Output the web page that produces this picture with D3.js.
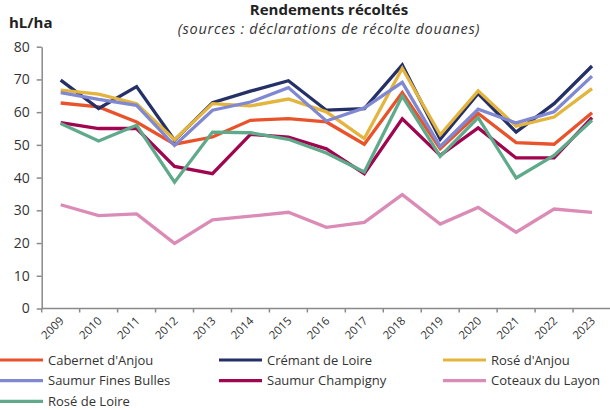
<!DOCTYPE html>
<meta charset="utf-8">
<style>
body { margin: 0; background: #fff; font-family: "Open Sans", sans-serif; }
.line { fill: none; stroke-width: 3.3; stroke-linejoin: miter; }
.axis path, .axis line { stroke: #8a8a8a; stroke-width: 1.5; fill: none; }
.axis text { fill: #333; font-family: "Open Sans", sans-serif; }
.legend text { font-size: 13px; fill: #333; }
</style>
<body>
<script src="https://d3js.org/d3.v7.min.js"></script>
<script>
var years = ["2009","2010","2011","2012","2013","2014","2015","2016","2017","2018","2019","2020","2021","2022","2023"];
var yTicks = [0, 10, 20, 30, 40, 50, 60, 70, 80];

var names = ["Cabernet d'Anjou", "Crémant de Loire", "Rosé d'Anjou", "Saumur Fines Bulles",
             "Saumur Champigny", "Coteaux du Layon", "Rosé de Loire"];
var colors = ["#e9532b", "#253066", "#e3b53e", "#8088d1", "#a0064f", "#db8cb6", "#5faa8a"];

var cabernet  = [62.8, 61.6, 57.0, 50.2, 52.4, 57.5, 58.0, 57.0, 50.2, 66.0, 48.8, 59.6, 50.7, 50.2, 59.8];
var cremant   = [69.8, 61.1, 67.8, 51.4, 62.9, 66.4, 69.6, 60.6, 61.1, 74.4, 51.7, 65.7, 53.9, 62.6, 74.1];
var roseAnjou = [66.7, 65.5, 62.6, 51.6, 62.6, 61.9, 64.0, 60.1, 51.9, 73.4, 53.1, 66.5, 55.7, 58.5, 67.2];
var saumurFB  = [66.0, 63.9, 62.1, 49.8, 60.6, 63.1, 67.5, 57.3, 61.3, 69.1, 49.5, 60.9, 56.7, 60.1, 71.0];
var champigny = [56.8, 55.0, 55.0, 43.4, 41.2, 53.2, 52.4, 48.8, 41.2, 58.0, 46.8, 55.2, 46.0, 46.0, 58.3];
var coteaux   = [31.7, 28.4, 28.9, 19.9, 27.1, 28.2, 29.4, 24.8, 26.3, 34.8, 25.8, 30.9, 23.3, 30.4, 29.4];
var roseLoire = [56.5, 51.2, 56.0, 38.6, 53.9, 53.7, 51.7, 47.5, 41.7, 64.9, 46.5, 58.3, 39.9, 46.8, 57.5];

var series = [cabernet, cremant, roseAnjou, saumurFB, champigny, coteaux, roseLoire];

var W = 610, H = 410;
var plotL = 41.7, plotR = 611, plotT = 46.7, plotB = 308.5;

var svg = d3.select("body").append("svg")
  .attr("width", W).attr("height", H);

var x = d3.scaleBand().domain(years).range([plotL, plotR]);
var y = d3.scaleLinear().domain([0, 80]).range([plotB, plotT]);

// titles
svg.append("text").attr("x", 329).attr("y", 15).attr("text-anchor", "middle")
  .style("font-size", "15px").style("font-weight", "bold").style("fill", "#222")
  .text("Rendements récoltés");
svg.append("text").attr("x", 329).attr("y", 34).attr("text-anchor", "middle")
  .style("font-size", "14.5px").style("font-style", "italic").style("fill", "#333")
  .style("letter-spacing", "0.7px")
  .text("(sources : déclarations de récolte douanes)");
svg.append("text").attr("x", 9).attr("y", 28)
  .style("font-size", "15px").style("font-weight", "bold").style("fill", "#222")
  .text("hL/ha");

// y axis
svg.append("g").attr("class", "axis")
  .attr("transform", "translate(" + plotL + ",0)")
  .call(d3.axisLeft(y).tickValues(yTicks).tickSize(5).tickSizeOuter(0).tickPadding(7))
  .selectAll("text").style("font-size", "14px");

// x axis, ticks on band edges
var xg = svg.append("g").attr("class", "axis")
  .attr("transform", "translate(0," + plotB + ")");
xg.append("path").attr("d", "M" + plotL + ",0H" + plotR);
xg.selectAll(".tk").data(years.concat(["end"])).enter().append("line")
  .attr("class", "tk")
  .attr("x1", function(d) { return d == "end" ? plotR : x(d); })
  .attr("x2", function(d) { return d == "end" ? plotR : x(d); })
  .attr("y1", 0).attr("y2", 4);
xg.selectAll(".lbl").data(years).enter().append("text")
  .attr("class", "lbl")
  .attr("text-anchor", "end")
  .style("font-size", "11.5px")
  .attr("transform", function(d) {
    return "translate(" + (x(d) + x.bandwidth() / 2 + 4) + ",13) rotate(-45)";
  })
  .text(function(d) { return d; });

// lines
var line = d3.line()
  .x(function(d, i) { return x(years[i]) + x.bandwidth() / 2; })
  .y(function(d) { return y(d); });

svg.selectAll(".line").data(series).enter().append("path")
  .attr("class", "line")
  .attr("stroke", function(d, i) { return colors[i]; })
  .attr("d", line);

// legend
var colX = [0, 219, 443];
var lg = svg.append("g").attr("class", "legend");
names.forEach(function(n, i) {
  var cx = colX[i % 3], cy = 360 + Math.floor(i / 3) * 20.7;
  lg.append("line").attr("x1", cx).attr("x2", cx + 43).attr("y1", cy).attr("y2", cy)
    .attr("stroke", colors[i]).attr("stroke-width", 3.2);
  lg.append("text").attr("x", cx + 48).attr("y", cy + 4.5).text(n);
});
</script>
</body>
